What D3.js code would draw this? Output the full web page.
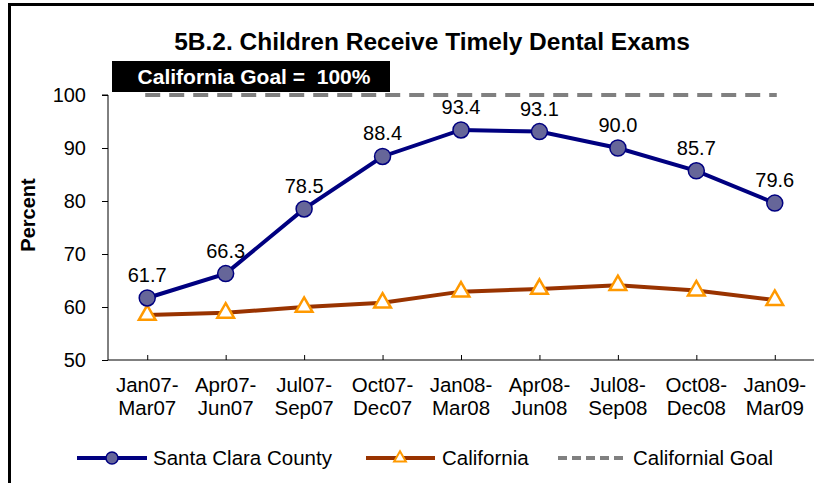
<!DOCTYPE html>
<html>
<head>
<meta charset="utf-8">
<script src="https://cdn.jsdelivr.net/npm/d3@7"></script>
<style>
  body { margin: 0; background: #fff; }
  svg { display: block; font-family: Arial, "Liberation Sans", sans-serif; }
</style>
</head>
<body>
<div id="chart"></div>
<script>
let periodsTop = ["Jan07-", "Apr07-", "Jul07-", "Oct07-", "Jan08-", "Apr08-", "Jul08-", "Oct08-", "Jan09-"];
let periodsBottom = ["Mar07", "Jun07", "Sep07", "Dec07", "Mar08", "Jun08", "Sep08", "Dec08", "Mar09"];
let santaClara = [61.7, 66.3, 78.5, 88.4, 93.4, 93.1, 90.0, 85.7, 79.6];
let california = [58.5, 58.9, 60.0, 60.8, 62.9, 63.4, 64.1, 63.1, 61.3];
let goal = 100;
let yTicks = [50, 60, 70, 80, 90, 100];

let width = 814, height = 483;
let svg = d3.select("#chart").append("svg")
  .attr("width", width)
  .attr("height", height);

// outer frame (only left and top edges show in the window)
svg.append("rect")
  .attr("x", 9.5).attr("y", 4.5)
  .attr("width", 900).attr("height", 600)
  .attr("fill", "none")
  .attr("stroke", "#000")
  .attr("stroke-width", 3);

let x = d3.scalePoint()
  .domain(d3.range(periodsTop.length))
  .range([108, 814])
  .padding(0.5);
let y = d3.scaleLinear()
  .domain([50, 100])
  .range([360, 95]);

// title
svg.append("text")
  .attr("x", 432).attr("y", 50)
  .attr("text-anchor", "middle")
  .attr("font-size", 24.5)
  .attr("font-weight", "bold")
  .text("5B.2. Children Receive Timely Dental Exams");

// goal box
svg.append("rect")
  .attr("x", 112).attr("y", 61)
  .attr("width", 278).attr("height", 31)
  .attr("fill", "#000");
svg.append("text")
  .attr("x", 254).attr("y", 84)
  .attr("text-anchor", "middle")
  .attr("font-size", 21)
  .attr("font-weight", "bold")
  .attr("fill", "#fff")
  .style("white-space", "pre")
  .text("California Goal =  100%");

// y axis
let yAxis = svg.append("g")
  .attr("transform", "translate(108,0)")
  .call(d3.axisLeft(y).tickValues(yTicks).tickSize(6).tickPadding(16));
yAxis.select(".domain").attr("stroke", "#000").attr("d", "M-6," + y(100) + "H0V" + y(50));
yAxis.selectAll("text").attr("font-size", 20).attr("font-family", null).attr("fill", "#000");

svg.append("text")
  .attr("transform", "translate(35,215) rotate(-90)")
  .attr("text-anchor", "middle")
  .attr("font-size", 20)
  .attr("font-weight", "bold")
  .text("Percent");

// x axis
let xAxis = svg.append("g")
  .attr("transform", "translate(0," + y(50) + ")")
  .call(d3.axisBottom(x).tickSize(-5).tickFormat(""));
xAxis.select(".domain").attr("d", "M108,0H814");

let xLabels = svg.append("g").selectAll("text")
  .data(periodsTop)
  .join("text")
  .attr("x", (d, i) => x(i))
  .attr("y", 392)
  .attr("text-anchor", "middle")
  .attr("font-size", 20.5);
xLabels.append("tspan").attr("x", (d, i) => x(i)).text(d => d);
xLabels.append("tspan").attr("x", (d, i) => x(i)).attr("dy", 23).text((d, i) => periodsBottom[i]);

// goal line
svg.append("line")
  .attr("x1", x(0) - 2).attr("x2", x(periodsTop.length - 1) + 2)
  .attr("y1", y(goal)).attr("y2", y(goal))
  .attr("stroke", "#808080")
  .attr("stroke-width", 4)
  .attr("stroke-dasharray", "15,9");

let line = d3.line()
  .x((d, i) => x(i))
  .y(d => y(d));

// california
svg.append("path")
  .attr("d", line(california))
  .attr("fill", "none")
  .attr("stroke", "#993300")
  .attr("stroke-width", 4);

let tri = d3.symbol().type(d3.symbolTriangle).size(120);
svg.append("g").selectAll("path")
  .data(california)
  .join("path")
  .attr("d", tri)
  .attr("transform", (d, i) => "translate(" + x(i) + "," + y(d) + ")")
  .attr("fill", "#fff")
  .attr("stroke", "#FF9900")
  .attr("stroke-width", 2.5);

// santa clara
svg.append("path")
  .attr("d", line(santaClara))
  .attr("fill", "none")
  .attr("stroke", "#000080")
  .attr("stroke-width", 4);

svg.append("g").selectAll("circle")
  .data(santaClara)
  .join("circle")
  .attr("cx", (d, i) => x(i))
  .attr("cy", d => y(d))
  .attr("r", 8)
  .attr("fill", "#666699")
  .attr("stroke", "#000080")
  .attr("stroke-width", 1.5);

svg.append("g").selectAll("text")
  .data(santaClara)
  .join("text")
  .attr("x", (d, i) => x(i))
  .attr("y", d => y(d) - 16)
  .attr("text-anchor", "middle")
  .attr("font-size", 20)
  .text(d => d.toFixed(1));

// legend
let legend = svg.append("g").attr("transform", "translate(0,458)");
legend.append("line").attr("x1", 77).attr("x2", 147)
  .attr("stroke", "#000080").attr("stroke-width", 4);
legend.append("circle").attr("cx", 112).attr("r", 6)
  .attr("fill", "#666699").attr("stroke", "#000080").attr("stroke-width", 1.5);
legend.append("text").attr("x", 153).attr("y", 7).attr("font-size", 20.5).text("Santa Clara County");

legend.append("line").attr("x1", 366).attr("x2", 435)
  .attr("stroke", "#993300").attr("stroke-width", 4);
legend.append("path").attr("d", d3.symbol().type(d3.symbolTriangle).size(60))
  .attr("transform", "translate(400,0)")
  .attr("fill", "#fff").attr("stroke", "#FF9900").attr("stroke-width", 2);
legend.append("text").attr("x", 442).attr("y", 7).attr("font-size", 20.5).text("California");

legend.append("line").attr("x1", 558).attr("x2", 628)
  .attr("stroke", "#808080").attr("stroke-width", 4)
  .attr("stroke-dasharray", "9,5");
legend.append("text").attr("x", 633).attr("y", 7).attr("font-size", 20.5).text("Californial Goal");
</script>
</body>
</html>
